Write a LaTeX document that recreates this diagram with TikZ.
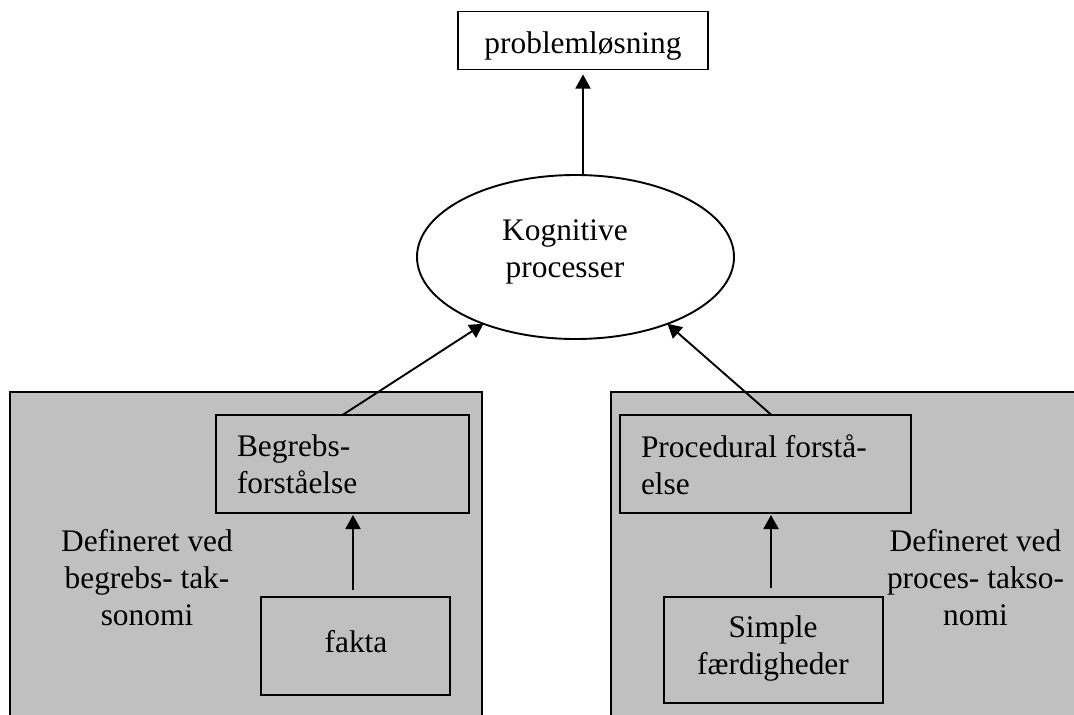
\documentclass[tikz,border=0pt]{standalone}
\usepackage{fontspec}
\setmainfont{Liberation Serif}
\usetikzlibrary{shapes.geometric,arrows.meta}
\definecolor{panelgray}{HTML}{C0C0C0}
\begin{document}
\begin{tikzpicture}[x=1pt,y=-1pt,
  every node/.style={inner sep=0pt, outer sep=0pt,
    font=\fontsize{31.4}{36.7}\selectfont},
  edge/.style={draw, line width=1.9pt},
  box/.style={draw, line width=1.9pt, rectangle},
  oval/.style={draw, line width=1.9pt, ellipse, fill=white},
  arr/.style={line width=1.9pt, -{Triangle[length=14pt,width=15pt]}},
]
\useasboundingbox (0,0) rectangle (1074,715);

% grey backgrounds of the two taxonomies (open at the bottom / right)
\fill[panelgray] (10,392) rectangle (482,730);
\draw[edge] (10,730) -- (10,392) -- (482,392) -- (482,730);
\fill[panelgray] (611,392) rectangle (1090,730);
\draw[edge] (611,730) -- (611,392) -- (1090,392);

% top goal
\node[box, fill=white, minimum width=250pt, minimum height=58pt] (prob) at (583,40.5) {};
\node[anchor=base] (probtxt) at (583,53) {problemløsning};

% central process
\node[oval, minimum width=317pt, minimum height=164pt] (kog) at (575.5,257) {};
\node[anchor=north, align=center] (kogtxt) at (565,219.6) {Kognitive\\processer};

% left column
\node[box, minimum width=253pt, minimum height=98pt] (begr) at (342.5,464) {};
\node[anchor=north west, align=left] (begrtxt) at (237,434.6) {Begrebs-\\forståelse};
\node[box, minimum width=189pt, minimum height=98pt] (fakta) at (355.5,646) {};
\node[anchor=base] (faktatxt) at (356,652) {fakta};
\node[anchor=north, align=center] (ltax) at (147,529.6) {Defineret ved\\begrebs- tak-\\sonomi};

% right column
\node[box, minimum width=291pt, minimum height=98pt] (proc) at (765.5,464) {};
\node[anchor=north west, align=left] (proctxt) at (641,434.6) {Procedural forstå-\\else};
\node[box, minimum width=219pt, minimum height=106pt] (simp) at (773.5,650) {};
\node[anchor=north, align=center] (simptxt) at (773,615.6) {Simple\\færdigheder};
\node[anchor=north, align=center] (rtax) at (975.5,529.6) {Defineret ved\\proces- takso-\\nomi};

% connectors
\draw[arr, shorten >=5pt] (kog.north -| prob.south) -- (prob.south);
\draw[arr] (begr.north) -- (kog.216);
\draw[arr] ([xshift=6pt]proc.north) -- (kog.-36);
\draw[arr, shorten >=2pt] ([yshift=7pt]fakta.north -| 353,0) -- (353,0 |- begr.south);
\draw[arr, shorten >=2pt] ([yshift=9pt]simp.north -| 771,0) -- (771,0 |- proc.south);
\end{tikzpicture}
\end{document}
